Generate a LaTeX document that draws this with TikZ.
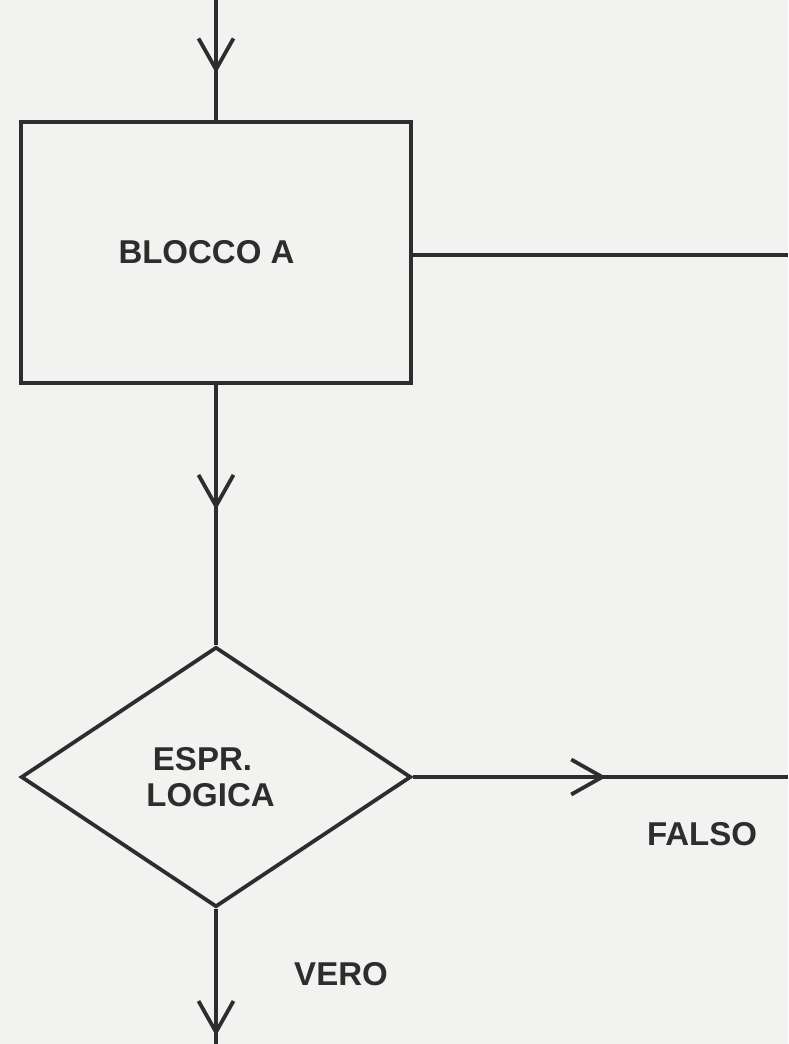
\documentclass[tikz,border=0pt]{standalone}
\usepackage{fontspec}
\setmainfont{Liberation Sans}
\usetikzlibrary{arrows.meta,decorations.markings,shapes.geometric}
\definecolor{paper}{RGB}{242,242,240}
\definecolor{ink}{RGB}{45,45,45}
\begin{document}
\begin{tikzpicture}[x=1pt,y=-1pt,
  line/.style={draw=ink, line width=3.8pt},
  vhead/.style={postaction={decorate},
    decoration={markings, mark=at position #1 with
      {\arrow{Straight Barb[length=31pt,width=35pt,line width=3.8pt]}}}},
  lbl/.style={text=ink, font=\bfseries\fontsize{33}{37}\selectfont, inner sep=0pt},
  blockbox/.style={draw=ink, line width=3.8pt, inner sep=0pt,
    minimum width=390pt, minimum height=261pt, text=ink,
    font=\bfseries\fontsize{33}{37}\selectfont},
  decision/.style={diamond, draw=ink, line width=3.8pt, inner sep=0pt,
    minimum width=390pt, minimum height=260pt, text=ink, align=center,
    font=\bfseries\fontsize{33}{36}\selectfont}]
  % paper and page size
  \fill[paper] (0,0) rectangle (788,1044);
  \useasboundingbox (0,0) rectangle (788,1044);

  % blocks
  \node[blockbox] (blocco) at (216,252.5) {BLOCCO A\kern19pt};
  \node[decision] (cond) at (216,777) {ESPR.\kern27pt\\LOGICA\kern11pt};

  % free ends of the connectors
  \coordinate (entry) at (216,0);
  \coordinate (exitA) at (788,255);
  \coordinate (exitF) at (788,777);
  \coordinate (exitV) at (216,1044);

  % connectors
  \draw[line, vhead=0.61] (entry) -- (blocco.north);
  \draw[line] (blocco.east |- exitA) -- (exitA);
  \draw[line, vhead=0.48] (blocco.south) -- (cond.north);
  \draw[line, vhead=0.515] (cond.east) -- (exitF);
  \draw[line, vhead=0.94] (cond.south) -- (exitV);

  % branch labels
  \node[lbl] (falso) at (702,834) {FALSO};
  \node[lbl] (vero) at (341,974) {VERO};
\end{tikzpicture}
\end{document}
